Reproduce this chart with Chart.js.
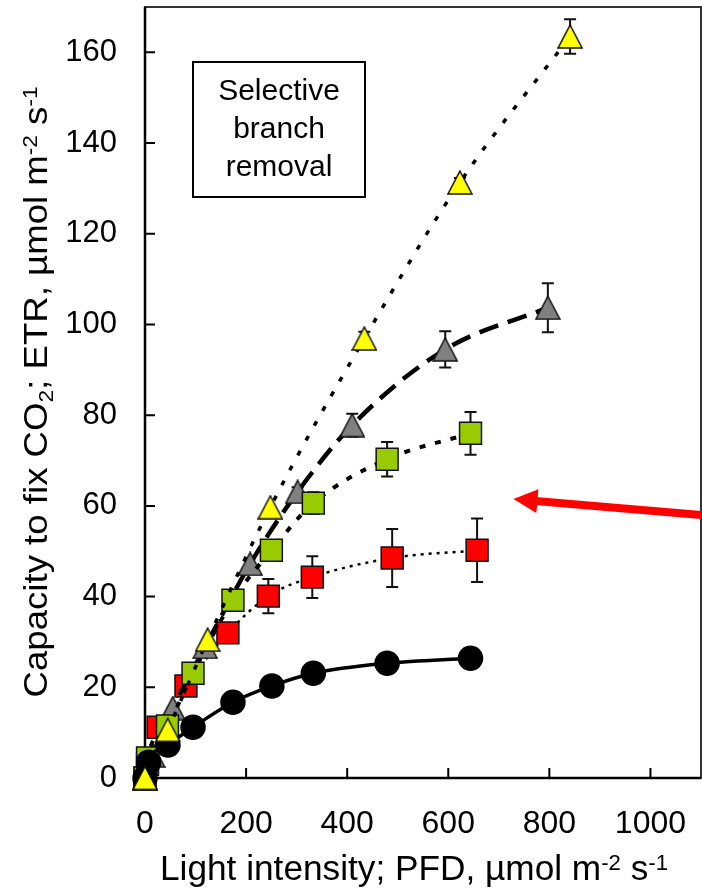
<!DOCTYPE html>
<html>
<head>
<meta charset="utf-8">
<script src="https://cdn.jsdelivr.net/npm/chart.js@4.4.1/dist/chart.umd.min.js"></script>
<style>
  html, body { margin: 0; padding: 0; background: #fff; }
  #wrap { width: 702px; height: 891px; }
</style>
</head>
<body>
<div id="wrap"><canvas id="chart"></canvas></div>
<script>
// values (PFD in umol m-2 s-1, capacity in umol m-2 s-1)
const pfdYellow = [0, 45, 124, 248, 434, 623, 841];
const capYellow = [0, 10.6, 30.5, 59.7, 96.9, 131.3, 163.5];
const errYellow = [0, 0, 0, 0, 1.5, 1, 3.8];

const pfdGray = [0, 15, 55, 119, 208, 302, 410, 594, 797];
const capGray = [0, 5, 15.4, 28.9, 47.2, 63.1, 77.8, 94.5, 103.7];
const errGray = [0, 0, 0, 0, 0, 1, 2.5, 4, 5.4];

const pfdGreen = [0, 5, 44.5, 95, 174, 250, 333, 479, 644];
const capGreen = [0, 4.4, 11.5, 23.1, 39.2, 50.2, 60.6, 70.3, 76];
const errGreen = [0, 0, 0, 0, 0, 0, 2.4, 3.8, 4.7];

const pfdRed = [0, 5, 26, 81, 164, 244, 331, 489, 657];
const capRed = [0, 3, 11.2, 20.3, 32, 40.1, 44.3, 48.5, 50.2];
const errRed = [0, 0, 0, 0, 0, 3.8, 4.6, 6.4, 7];

const pfdBlack = [0, 7, 45.5, 95, 174, 251, 333, 479, 644];
const capBlack = [0, 3.5, 7.3, 11.2, 16.7, 20.3, 23.1, 25.3, 26.4];

const xTicks = [0, 200, 400, 600, 800, 1000];
const yTicks = [0, 20, 40, 60, 80, 100, 120, 140, 160];

const boxLines = ['Selective', 'branch', 'removal'];
const xTitle = [{ t: 'Light intensity; PFD, \u00b5mol m' }, { t: '-2', sup: true }, { t: ' s' }, { t: '-1', sup: true }];
const yTitle = [{ t: 'Capacity to fix CO' }, { t: '2', sub: true }, { t: '; ETR, \u00b5mol m' }, { t: '-2', sup: true }, { t: ' s' }, { t: '-1', sup: true }];

// red arrow, in data units
const arrowFrom = [1100, 58];
const arrowTo = [729, 61.5];

const FONT = "'Liberation Sans', Arial, sans-serif";

function pts(xs, ys) {
  return xs.map((v, i) => ({ x: v, y: ys[i] }));
}

// excel style triangle, centred on its bounding box
function triangle(fill) {
  const c = document.createElement('canvas');
  c.width = 26; c.height = 25;
  const g = c.getContext('2d');
  g.beginPath();
  g.moveTo(13, 1); g.lineTo(25, 24); g.lineTo(1, 24); g.closePath();
  g.fillStyle = fill; g.fill();
  g.lineWidth = 1.5; g.strokeStyle = '#111'; g.stroke();
  return c;
}

function drawRich(ctx, parts, size, target) {
  // draws parts centred on 0,0 (baseline), squeezed to target width
  const small = Math.round(size * 0.63);
  let w = 0;
  parts.forEach(p => {
    ctx.font = (p.sup || p.sub ? small : size) + 'px ' + FONT;
    p.w = ctx.measureText(p.t).width;
    w += p.w;
  });
  ctx.scale(target / w, 1);
  let x = -w / 2;
  parts.forEach(p => {
    ctx.font = (p.sup || p.sub ? small : size) + 'px ' + FONT;
    const dy = p.sup ? -size * 0.3 : (p.sub ? size * 0.18 : 0);
    ctx.fillText(p.t, x, dy);
    x += p.w;
  });
}

const decorations = {
  id: 'decorations',
  beforeDatasetsDraw(chart) {
    const { ctx, chartArea: a, scales: { x, y } } = chart;
    ctx.save();
    // frame
    ctx.strokeStyle = '#333';
    ctx.lineWidth = 2;
    ctx.strokeRect(a.left, a.top, a.right - a.left, a.bottom - a.top);
    ctx.strokeStyle = '#000';
    ctx.lineWidth = 2.5;
    ctx.beginPath();
    ctx.moveTo(a.left, a.top); ctx.lineTo(a.left, a.bottom); ctx.lineTo(a.right, a.bottom);
    ctx.stroke();
    // inward ticks
    ctx.lineWidth = 2;
    ctx.beginPath();
    yTicks.forEach(v => {
      const py = y.getPixelForValue(v);
      ctx.moveTo(a.left, py); ctx.lineTo(a.left + 10, py);
    });
    xTicks.forEach(v => {
      const px = x.getPixelForValue(v);
      ctx.moveTo(px, a.bottom); ctx.lineTo(px, a.bottom - 10);
    });
    ctx.stroke();
    // error bars
    ctx.strokeStyle = '#111';
    ctx.lineWidth = 2;
    chart.data.datasets.forEach(ds => {
      if (!ds.errors) return;
      ds.data.forEach((p, i) => {
        const e = ds.errors[i];
        if (!e) return;
        const px = x.getPixelForValue(p.x);
        const t = y.getPixelForValue(p.y + e);
        const b = y.getPixelForValue(p.y - e);
        ctx.beginPath();
        ctx.moveTo(px, t); ctx.lineTo(px, b);
        ctx.moveTo(px - 6, t); ctx.lineTo(px + 6, t);
        ctx.moveTo(px - 6, b); ctx.lineTo(px + 6, b);
        ctx.stroke();
      });
    });
    ctx.restore();
  },
  afterDatasetsDraw(chart) {
    const { ctx, scales: { x, y } } = chart;
    const x0 = x.getPixelForValue(arrowFrom[0]), y0 = y.getPixelForValue(arrowFrom[1]);
    const x1 = x.getPixelForValue(arrowTo[0]), y1 = y.getPixelForValue(arrowTo[1]);
    const ang = Math.atan2(y1 - y0, x1 - x0);
    const len = Math.hypot(x1 - x0, y1 - y0);
    ctx.save();
    ctx.translate(x0, y0);
    ctx.rotate(ang);
    ctx.fillStyle = '#ff0000';
    ctx.fillRect(0, -4, len - 22, 8);
    ctx.beginPath();
    ctx.moveTo(len, 0); ctx.lineTo(len - 24, -12); ctx.lineTo(len - 24, 12); ctx.closePath();
    ctx.fill();
    ctx.restore();
  },
  afterDraw(chart) {
    const { ctx, chartArea: a } = chart;
    ctx.save();
    // label box
    ctx.strokeStyle = '#000';
    ctx.lineWidth = 2;
    ctx.strokeRect(a.left + 48, a.top + 55, 172, 135);
    ctx.fillStyle = '#000';
    ctx.font = '30px ' + FONT;
    ctx.textAlign = 'center';
    ctx.textBaseline = 'middle';
    boxLines.forEach((s, i) => ctx.fillText(s, a.left + 134, a.top + 85 + i * 38));
    ctx.textAlign = 'left';
    ctx.textBaseline = 'alphabetic';
    // axis titles
    ctx.save();
    ctx.translate(414, 880);
    drawRich(ctx, xTitle, 35, 508);
    ctx.restore();
    ctx.save();
    ctx.translate(47, 392);
    ctx.rotate(-Math.PI / 2);
    drawRich(ctx, yTitle, 34, 611);
    ctx.restore();
    ctx.restore();
  }
};

const common = {
  showLine: true,
  clip: false,
  cubicInterpolationMode: 'monotone',
  borderColor: '#000',
  pointBorderColor: '#111',
  pointBorderWidth: 1.5,
  pointHoverRadius: 12
};

function noPad(s) {
  s.paddingLeft = 0; s.paddingRight = 0; s.paddingTop = 0; s.paddingBottom = 0;
}

new Chart(document.getElementById('chart'), {
  type: 'scatter',
  data: {
    datasets: [
      Object.assign({}, common, {
        label: 'yellow', data: pts(pfdYellow, capYellow), errors: errYellow,
        borderWidth: 3.5, borderDash: [5, 12],
        pointStyle: triangle('#ffff00'), pointRadius: 12
      }),
      Object.assign({}, common, {
        label: 'black', data: pts(pfdBlack, capBlack),
        borderWidth: 3.5,
        pointStyle: 'circle', pointRadius: 12, pointBackgroundColor: '#000', pointBorderColor: '#000'
      }),
      Object.assign({}, common, {
        label: 'green', data: pts(pfdGreen, capGreen), errors: errGreen,
        borderWidth: 4, borderDash: [6, 10],
        pointStyle: 'rect', pointRadius: 15.5, pointBackgroundColor: '#99cc00'
      }),
      Object.assign({}, common, {
        label: 'gray', data: pts(pfdGray, capGray), errors: errGray,
        borderWidth: 4.5, borderDash: [20, 10],
        pointStyle: triangle('#808080'), pointRadius: 12
      }),
      Object.assign({}, common, {
        label: 'red', data: pts(pfdRed, capRed), errors: errRed,
        borderWidth: 2.5, borderDash: [3, 5],
        pointStyle: 'rect', pointRadius: 15.5, pointBackgroundColor: '#ff0000'
      })
    ]
  },
  options: {
    responsive: true,
    maintainAspectRatio: false,
    animation: false,
    layout: { autoPadding: false, padding: { left: 0, top: 7, right: 1, bottom: 0 } },
    plugins: { legend: { display: false }, tooltip: { enabled: false } },
    scales: {
      x: {
        type: 'linear', min: 0, max: 1100,
        afterBuildTicks: s => { s.ticks = xTicks.map(v => ({ value: v })); },
        afterFit: s => { s.height = 113; noPad(s); },
        grid: { display: false, drawTicks: false },
        border: { display: false },
        ticks: {
          color: '#000', font: { family: FONT, size: 32 }, padding: 27, maxRotation: 0, autoSkip: false,
          callback: v => String(v)
        }
      },
      y: {
        type: 'linear', min: 0, max: 170,
        afterBuildTicks: s => { s.ticks = yTicks.map(v => ({ value: v })); },
        afterFit: s => { s.width = 145; noPad(s); },
        grid: { display: false, drawTicks: false },
        border: { display: false },
        ticks: {
          color: '#000', font: { family: FONT, size: 31 }, padding: 28, autoSkip: false,
          callback: v => String(v)
        }
      }
    }
  },
  plugins: [decorations]
});
</script>
</body>
</html>
